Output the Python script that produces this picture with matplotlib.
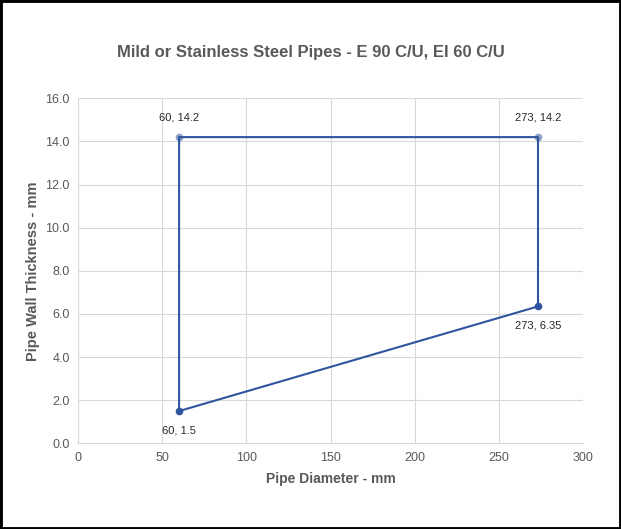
import matplotlib
matplotlib.use("Agg")
import matplotlib.pyplot as plt
from matplotlib.patches import Rectangle

plt.rcParams['font.family'] = ['Liberation Sans', 'DejaVu Sans']

# data
diameter = [60, 273, 273, 60, 60]
thickness = [1.5, 6.35, 14.2, 14.2, 1.5]
labels = ['60, 1.5', '273, 6.35', '273, 14.2', '60, 14.2']
label_offsets = [(0, -14), (0, -14), (0, 14), (0, 14)]
marker_alpha = [1.0, 1.0, 0.55, 0.55]

line_col = '#2f54a0'
grey = '#595959'

fig = plt.figure(figsize=(6.21, 5.29), dpi=100)
fig.patches.append(Rectangle((0, 0), 1, 1, transform=fig.transFigure,
                             fill=False, edgecolor='black', linewidth=3.5))
ax = fig.add_axes([0.1256, 0.1618, 0.814, 0.6524])

ax.plot(diameter, thickness, color=line_col, linewidth=1.5, zorder=3)
for i, lab in enumerate(labels):
    ax.plot(diameter[i], thickness[i], 'o', color=line_col, markersize=5.5,
            alpha=marker_alpha[i], zorder=4, markeredgewidth=0)
    ax.annotate(lab, (diameter[i], thickness[i]), xytext=label_offsets[i],
                textcoords='offset points', ha='center', va='center',
                fontsize=8, color='#262626')

ax.set_xlim(0, 300)
ax.set_ylim(0, 16)
ax.set_xticks(range(0, 301, 50))
ax.set_yticks(range(0, 17, 2))
ax.set_yticklabels([f'{v:.1f}' for v in range(0, 17, 2)])
ax.grid(True, color='#d9d9d9', linewidth=0.8)
ax.set_axisbelow(True)
for s in ['top', 'right', 'left']:
    ax.spines[s].set_visible(False)
ax.spines['bottom'].set_color('#d9d9d9')
ax.tick_params(length=0, colors=grey, labelsize=9, pad=6)

ax.set_xlabel('Pipe Diameter - mm', fontsize=10, fontweight='bold', color=grey, labelpad=6)
ax.set_ylabel('Pipe Wall Thickness - mm', fontsize=10.5, fontweight='bold', color=grey, labelpad=4)
fig.text(0.5, 0.9, 'Mild or Stainless Steel Pipes - E 90 C/U, EI 60 C/U',
         ha='center', va='center', fontsize=12, fontweight='bold', color=grey)

fig.savefig('out.png', dpi=100)
